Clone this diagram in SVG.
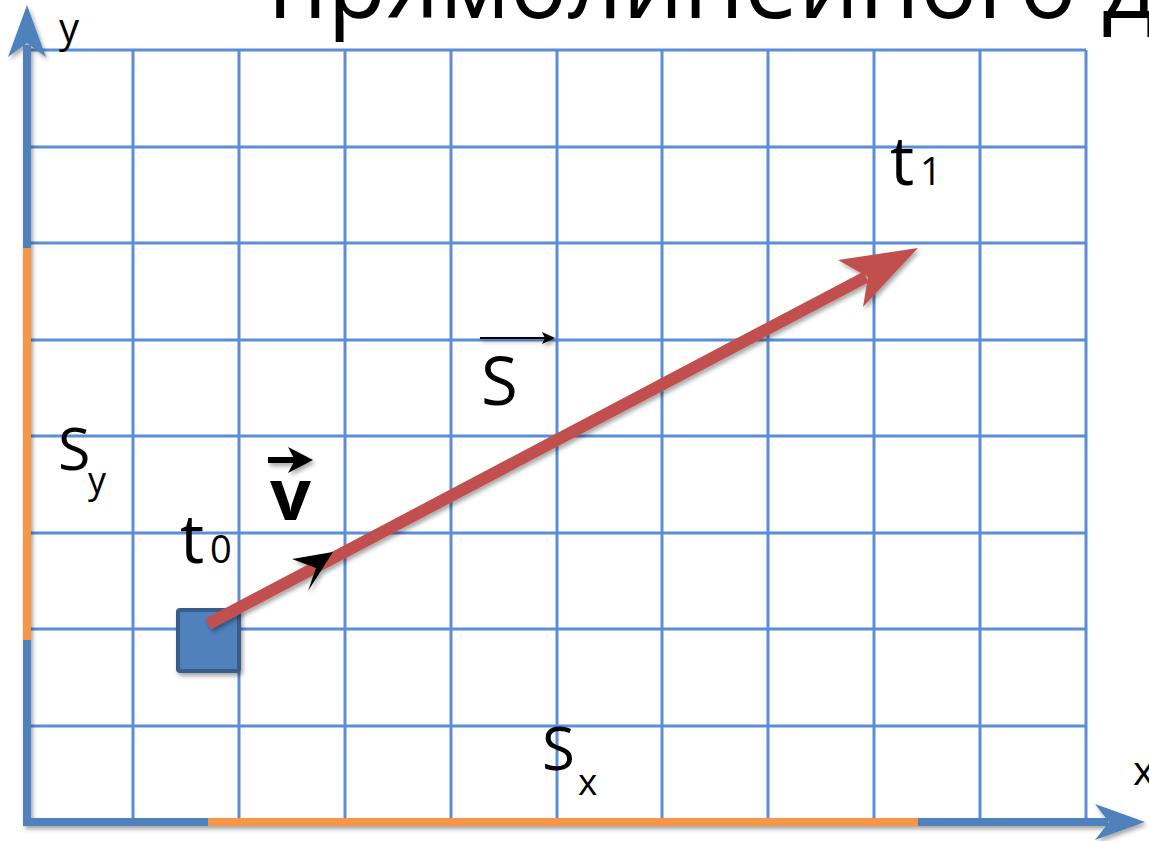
<svg xmlns="http://www.w3.org/2000/svg" width="1149" height="841" viewBox="0 0 1149 841">
<style>
.grid line{stroke:#5B8ED6;stroke-width:3}
.axis{stroke:#4F81BD;stroke-width:8;fill:none}
.axisHead{fill:#4F81BD}
.orange{stroke:#F79646;stroke-width:8}
.lbl{font-family:"Open Sans","Noto Sans","Liberation Sans",sans-serif;fill:#000}
</style>
<defs>
<filter id="sh" x="-20%" y="-20%" width="140%" height="140%">
<feDropShadow dx="2" dy="3" stdDeviation="2" flood-color="#000" flood-opacity="0.35"/>
</filter>
</defs>
<rect width="1149" height="841" fill="#fff"/>
<text class="lbl" x="268" y="18" font-size="100" textLength="889" lengthAdjust="spacingAndGlyphs">прямолинейного д</text>
<g id="grid" class="grid">
<line x1="133" y1="50" x2="133" y2="822"/>
<line x1="239" y1="50" x2="239" y2="822"/>
<line x1="345" y1="50" x2="345" y2="822"/>
<line x1="451" y1="50" x2="451" y2="822"/>
<line x1="557" y1="50" x2="557" y2="822"/>
<line x1="662" y1="50" x2="662" y2="822"/>
<line x1="768" y1="50" x2="768" y2="822"/>
<line x1="874" y1="50" x2="874" y2="822"/>
<line x1="980" y1="50" x2="980" y2="822"/>
<line x1="1086" y1="50" x2="1086" y2="822"/>
<line x1="27" y1="50" x2="1086" y2="50"/>
<line x1="27" y1="147" x2="1086" y2="147"/>
<line x1="27" y1="243" x2="1086" y2="243"/>
<line x1="27" y1="340" x2="1086" y2="340"/>
<line x1="27" y1="436" x2="1086" y2="436"/>
<line x1="27" y1="533" x2="1086" y2="533"/>
<line x1="27" y1="629" x2="1086" y2="629"/>
<line x1="27" y1="726" x2="1086" y2="726"/>
</g>
<g id="axes" filter="url(#sh)">
<path class="axis" d="M27,45 V822 H1108"/>
<polygon class="axisHead" points="27,5 46,57 27,43 8,57"/>
<polygon class="axisHead" points="1145,822 1095,840 1109,822 1095,804"/>
<line class="orange" x1="27" y1="248" x2="27" y2="640"/>
<line class="orange" x1="208" y1="822" x2="918" y2="822"/>
</g>
<g id="node-t0" filter="url(#sh)">
<rect x="178" y="610" width="61" height="61" rx="2" fill="#4F81BD" stroke="#385D8A" stroke-width="4"/>
</g>
<g id="connectors" filter="url(#sh)">
<line x1="208" y1="624" x2="866" y2="277" stroke="#C0504D" stroke-width="12"/>
<polygon points="918,248 863,307 868,277 838,260" fill="#C0504D"/>
<polygon points="333,552 308,591 316,568 292,559" fill="#000"/>
<line x1="268" y1="460" x2="297" y2="460" stroke="#000" stroke-width="6"/>
<polygon points="313,460 288,473 295,460 288,447" fill="#000"/>
<line x1="480" y1="338" x2="548" y2="338" stroke="#000" stroke-width="2"/>
<polygon points="555,338 542,332 545,338 542,344" fill="#000"/>
</g>
<g id="labels">
<text class="lbl" x="59" y="42" font-size="40">y</text>
<text class="lbl" x="890" y="185" font-size="68">t</text>
<text class="lbl" x="920" y="185" font-size="38">1</text>
<text class="lbl" x="180" y="563" font-size="68">t</text>
<text class="lbl" x="210" y="563" font-size="38">0</text>
<text class="lbl" x="481" y="405" font-size="67">S</text>
<text class="lbl" x="58" y="470" font-size="59">S</text>
<text class="lbl" x="88" y="493" font-size="36">y</text>
<text class="lbl" x="542" y="770" font-size="60">S</text>
<text class="lbl" x="578" y="795" font-size="37">x</text>
<text class="lbl" x="1133" y="785" font-size="41">x</text>
<text class="lbl" x="270" y="520" font-size="72" font-weight="bold">v</text>
</g>
</svg>
